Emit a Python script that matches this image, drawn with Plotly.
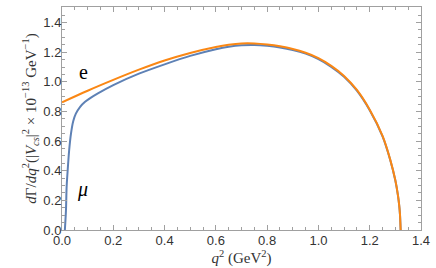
import plotly.graph_objects as go

q_e = [0.0, 0.1, 0.2, 0.3, 0.4, 0.5, 0.6, 0.65, 0.7, 0.75, 0.8, 0.85, 0.9, 0.95, 1.0, 1.05, 1.1, 1.15, 1.2, 1.25, 1.28, 1.3, 1.31, 1.315, 1.318, 1.3206]
v_e = [0.862, 0.94, 1.013, 1.082, 1.144, 1.195, 1.235, 1.25, 1.259, 1.259, 1.252, 1.24, 1.222, 1.196, 1.16, 1.108, 1.04, 0.945, 0.812, 0.635, 0.475, 0.335, 0.236, 0.167, 0.106, 0.0]

q_mu = [0.0112, 0.0155, 0.018, 0.022, 0.028, 0.035, 0.044, 0.054, 0.07, 0.09, 0.11, 0.14, 0.2, 0.3, 0.4, 0.5, 0.6, 0.65, 0.7, 0.75, 0.8, 0.85, 0.9, 0.95, 1.0, 1.05, 1.1, 1.15, 1.2, 1.25, 1.28, 1.3, 1.31, 1.315, 1.318, 1.3206]
v_mu = [0.0, 0.134, 0.29, 0.40, 0.54, 0.65, 0.735, 0.785, 0.83, 0.865, 0.89, 0.922, 0.978, 1.055, 1.118, 1.175, 1.22, 1.237, 1.247, 1.249, 1.243, 1.232, 1.215, 1.19, 1.153, 1.101, 1.034, 0.94, 0.808, 0.632, 0.473, 0.334, 0.235, 0.166, 0.105, 0.0]

x_ticks = [0.0, 0.2, 0.4, 0.6, 0.8, 1.0, 1.2, 1.4]
y_ticks = [0.0, 0.2, 0.4, 0.6, 0.8, 1.0, 1.2, 1.4]

BLUE = "#5E81B5"
ORANGE = "#FA8714"
FRAME = "#A0A0A0"
SERIF = "Liberation Serif"

fig = go.Figure()
fig.add_trace(go.Scatter(x=q_mu, y=v_mu, mode="lines", line=dict(color=BLUE, width=2, shape="spline", smoothing=0.8), showlegend=False))
fig.add_trace(go.Scatter(x=q_e, y=v_e, mode="lines", line=dict(color=ORANGE, width=2, shape="spline", smoothing=0.8), showlegend=False))

axis_common = dict(
    showgrid=False, zeroline=False, showline=True, linecolor=FRAME, linewidth=1,
    mirror="allticks", ticks="inside", ticklen=5, tickcolor=FRAME, tickwidth=1,
    tickfont=dict(family="Liberation Sans", size=13, color="#333333"),
    minor=dict(ticks="inside", ticklen=3, tickcolor=FRAME, dtick=0.05, tickwidth=1),
)

fig.update_xaxes(range=[0, 1.4], tickvals=x_ticks, ticktext=[f"{t:.1f}" for t in x_ticks],
                 ticklabelstandoff=-2,
                 title=dict(text="<i>q</i><sup>2</sup> (GeV<sup>2</sup>)", font=dict(family=SERIF, size=15, color="#333333"), standoff=1),
                 **axis_common)
fig.update_yaxes(range=[0, 1.505], tickvals=y_ticks, ticktext=[f"{t:.1f}" for t in y_ticks],
                 ticklabelstandoff=-3,
                 title=dict(text="<i>d</i>Γ/<i>dq</i><sup>2</sup>(|<i>V<sub>cs</sub></i>|<sup>2</sup> × 10<sup>−13</sup> GeV<sup>−1</sup>)",
                            font=dict(family=SERIF, size=15, color="#333333"), standoff=3),
                 **axis_common)

fig.add_annotation(x=0.083, y=1.064, text="e", showarrow=False, font=dict(family=SERIF, size=20, color="black"))
fig.add_annotation(x=0.078, y=0.27, text="<i>μ</i>", showarrow=False, font=dict(family=SERIF, size=20, color="black"))

fig.update_layout(width=436, height=268, margin=dict(l=62, r=13, t=6, b=38),
                  plot_bgcolor="white", paper_bgcolor="white")

fig.write_html("out.html", config={"displayModeBar": False}, post_script="document.body.style.margin='0';")
